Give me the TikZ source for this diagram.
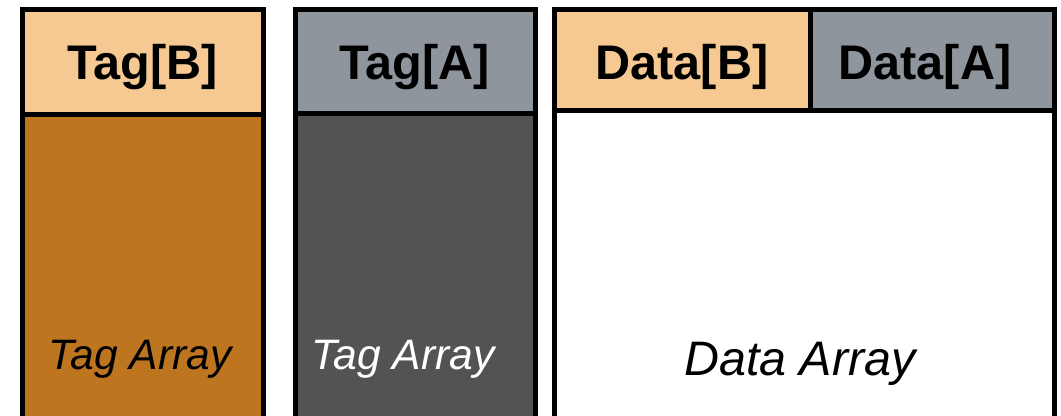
\documentclass[tikz,border=0pt]{standalone}
\usepackage{fontspec}
\setmainfont{Liberation Sans}
\definecolor{peach}{HTML}{F6C993}
\definecolor{amber}{HTML}{BE7520}
\definecolor{slate}{HTML}{8E959C}
\definecolor{charcoal}{HTML}{535353}
\begin{document}
\begin{tikzpicture}[x=0.5pt,y=-0.5pt,
  cell/.style={draw=black,line width=2.5pt,line join=miter},
  head/.style={font=\bfseries\fontsize{24.3}{28}\selectfont,text=black,anchor=base,inner sep=0pt},
  arr/.style={font=\itshape\fontsize{21.3}{25}\selectfont,anchor=base,inner sep=0pt},
  darr/.style={font=\itshape\fontsize{24.2}{28}\selectfont,anchor=base,inner sep=0pt}]
\useasboundingbox (0,0) rectangle (1061,416);
\clip (0,0) rectangle (1061,416);

% tag array for way B
\filldraw[cell,fill=amber] (22.5,115) rectangle (263.5,422);
\filldraw[cell,fill=peach] (22.5,10) rectangle (263.5,115);
\node[head] (tagB) at (143,80) {Tag[B]};
\node[arr] (tagarrB) at (140,370) {Tag Array};

% tag array for way A
\filldraw[cell,fill=charcoal] (295,114) rectangle (535,422);
\filldraw[cell,fill=slate] (295,10) rectangle (535,114);
\node[head] (tagA) at (415,80) {Tag[A]};
\node[arr,text=white] (tagarrA) at (403,370) {Tag Array};

% shared data array
\filldraw[cell,fill=white] (554.5,111) rectangle (1054,422);
\filldraw[cell,fill=peach] (554.5,10) rectangle (810,111);
\filldraw[cell,fill=slate] (810,10) rectangle (1054,111);
\node[head] (dataB) at (682,80) {Data[B]};
\node[head] (dataA) at (925,80) {Data[A]};
\node[darr] (dataarr) at (800,376) {Data Array};
\end{tikzpicture}
\end{document}
